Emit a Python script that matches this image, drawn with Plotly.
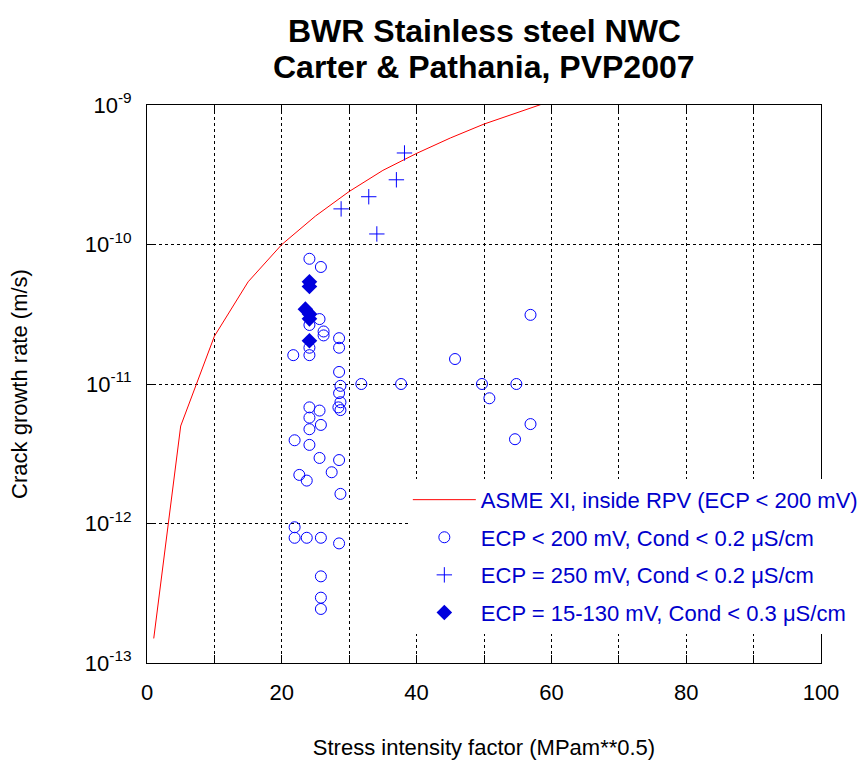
import plotly.graph_objects as go

# ASME XI reference curve
asme_k = [1, 5, 10, 15, 20, 25, 30, 35, 40, 45, 50, 55, 60]
asme_rate = [1.5e-13, 5.0e-12, 2.2e-11, 5.4e-11, 1.0e-10, 1.6e-10, 2.4e-10,
             3.4e-10, 4.5e-10, 5.8e-10, 7.3e-10, 8.9e-10, 1.07e-9]

# ECP < 200 mV, Cond < 0.2 uS/cm
circ_k = [24.1, 25.8, 25.6, 24.1, 26.2, 26.2, 28.5, 24.1, 28.5, 21.7, 24.1, 28.5,
          31.8, 28.7, 28.5, 28.7, 28.4, 28.7, 24.1, 25.6, 24.1, 25.8, 24.1, 21.9,
          24.1, 25.6, 28.5, 27.4, 22.6, 23.7, 28.7, 21.9, 21.9, 23.7, 25.8, 28.5,
          25.8, 25.8, 25.8, 56.9, 45.7, 37.7, 49.7, 54.8, 50.8, 56.9, 54.6]
circ_rate = [7.9e-11, 6.9e-11, 2.92e-11, 2.65e-11, 2.38e-11, 2.23e-11, 2.13e-11,
             1.82e-11, 1.82e-11, 1.61e-11, 1.61e-11, 1.22e-11,
             1.0e-11, 9.7e-12, 8.6e-12, 7.4e-12, 6.8e-12, 6.5e-12, 6.8e-12, 6.45e-12,
             5.74e-12, 5.09e-12, 4.74e-12, 3.95e-12,
             3.66e-12, 2.95e-12, 2.85e-12, 2.33e-12, 2.23e-12, 2.03e-12, 1.63e-12,
             9.4e-13, 7.9e-13, 7.9e-13, 7.9e-13, 7.2e-13,
             4.18e-13, 2.94e-13, 2.44e-13, 3.13e-11, 1.51e-11, 1.0e-11, 1.0e-11,
             1.0e-11, 7.9e-12, 5.16e-12, 4.02e-12]

# ECP = 250 mV, Cond < 0.2 uS/cm
plus_k = [38.2, 37.0, 32.9, 28.8, 34.1]
plus_rate = [4.53e-10, 2.91e-10, 2.2e-10, 1.8e-10, 1.19e-10]

# ECP = 15-130 mV, Cond < 0.3 uS/cm
dia_k = [24.1, 24.1, 23.5, 24.1, 24.1, 24.1]
dia_rate = [5.4e-11, 5.0e-11, 3.44e-11, 3.18e-11, 2.93e-11, 2.04e-11]

x_ticks = list(range(0, 101, 10))
x_labels = ["0", "", "20", "", "40", "", "60", "", "80", "", "100"]
y_ticks = [1e-13, 1e-12, 1e-11, 1e-10, 1e-9]
y_labels = ["10<sup>-13</sup>", "10<sup>-12</sup>", "10<sup>-11</sup>",
            "10<sup>-10</sup>", "10<sup>-9</sup>"]

title_lines = ["BWR Stainless steel NWC", "Carter & Pathania, PVP2007"]

FONT = "Liberation Sans, Arial, Helvetica, sans-serif"
BLUE = "#0000ff"

fig = go.Figure()
fig.add_trace(go.Scatter(x=asme_k, y=asme_rate, mode="lines", legendgroup="a",
                         line=dict(color="#ff0000", width=1),
                         name="ASME XI, inside RPV (ECP < 200 mV)"))
fig.add_trace(go.Scatter(x=circ_k, y=circ_rate, mode="markers", legendgroup="b",
                         marker=dict(symbol="circle-open", size=11, color=BLUE,
                                     line=dict(width=1, color=BLUE)),
                         name="ECP < 200 mV, Cond < 0.2 μS/cm"))
fig.add_trace(go.Scatter(x=plus_k, y=plus_rate, mode="markers", legendgroup="c",
                         marker=dict(symbol="cross-thin-open", size=11, color=BLUE,
                                     line=dict(width=1, color=BLUE)),
                         name="ECP = 250 mV, Cond < 0.2 μS/cm"))
fig.add_trace(go.Scatter(x=dia_k, y=dia_rate, mode="markers", legendgroup="d",
                         marker=dict(symbol="diamond", size=12, color="#0000dd"),
                         name="ECP = 15-130 mV, Cond < 0.3 μS/cm"))

axis_common = dict(showline=True, linecolor="black", linewidth=1, mirror="allticks",
                   ticks="inside", ticklen=8, tickcolor="black",
                   showgrid=True, gridcolor="black", griddash="dot", gridwidth=1,
                   zeroline=False, tickfont=dict(family=FONT, size=22, color="black"))

fig.update_xaxes(range=[0, 100], tickvals=x_ticks, ticktext=x_labels,
                 ticklabelstandoff=10,
                 title_text="Stress intensity factor (MPam**0.5)", title_standoff=35,
                 title_font=dict(family=FONT, size=22, color="black"),
                 **axis_common)
fig.update_yaxes(type="log", range=[-13, -9], tickvals=y_ticks, ticktext=y_labels,
                 ticklabelstandoff=10,
                 title_text="Crack growth rate (m/s)", title_standoff=51,
                 title_font=dict(family=FONT, size=22, color="black"),
                 **axis_common)

for i, (txt, ypx) in enumerate(zip(title_lines, [31, 67])):
    fig.add_annotation(text="<b>" + txt + "</b>", xref="paper", yref="paper",
                       x=0.5, xanchor="center", y=(663 - ypx) / 558, yanchor="middle",
                       showarrow=False,
                       font=dict(family=FONT, size=32, color="black"))

fig.update_layout(
    width=868, height=762,
    margin=dict(l=147, r=47, t=105, b=99, autoexpand=False),
    paper_bgcolor="white", plot_bgcolor="white",
    font=dict(family=FONT, color="black"),
    legend=dict(x=0.387, y=0.33, xanchor="left", yanchor="top",
                bgcolor="white", borderwidth=0, itemwidth=63,
                traceorder="grouped", tracegroupgap=6,
                font=dict(family=FONT, size=22, color="#0000cc")),
    showlegend=True,
)

fig.write_html("out.html")
